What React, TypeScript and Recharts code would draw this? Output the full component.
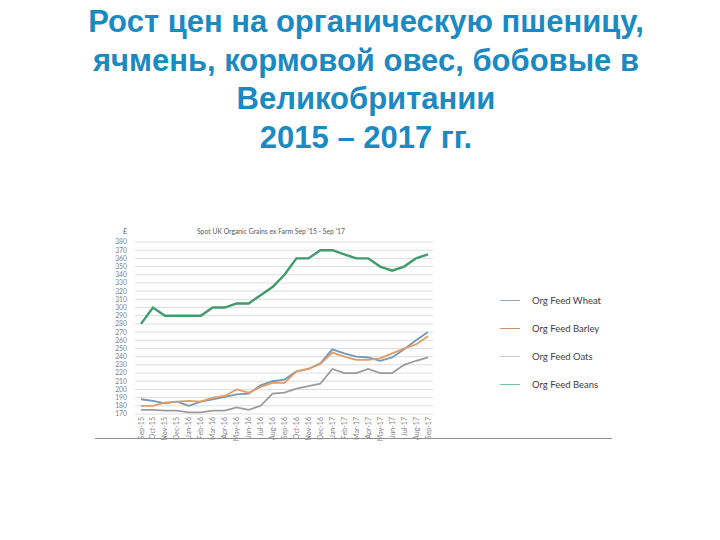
import { CartesianGrid, Legend, Line, LineChart, XAxis, YAxis } from 'recharts';

const months = [
  'Sep-15', 'Oct-15', 'Nov-15', 'Dec-15', 'Jan-16', 'Feb-16', 'Mar-16', 'Apr-16', 'May-16',
  'Jun-16', 'Jul-16', 'Aug-16', 'Sep-16', 'Oct-16', 'Nov-16', 'Dec-16', 'Jan-17', 'Feb-17',
  'Mar-17', 'Apr-17', 'May-17', 'Jun-17', 'Jul-17', 'Aug-17', 'Sep-17',
];
const wheat = [188, 186, 183, 185, 180, 185, 188, 191, 194, 195, 205, 210, 212, 222, 225, 232, 249, 244, 240, 239, 235, 239, 249, 260, 270];
const barley = [180, 180, 184, 185, 186, 185, 190, 192, 200, 196, 203, 208, 208, 222, 225, 231, 245, 240, 236, 236, 238, 244, 250, 255, 265];
const oats = [175, 175, 174, 174, 172, 172, 174, 174, 178, 175, 180, 195, 196, 201, 204, 207, 225, 220, 220, 225, 220, 220, 230, 235, 239];
const beans = [280, 300, 290, 290, 290, 290, 300, 300, 305, 305, 315, 325, 340, 360, 360, 370, 370, 365, 360, 360, 350, 345, 350, 360, 365];
const yTicks = [170, 180, 190, 200, 210, 220, 230, 240, 250, 260, 270, 280, 290, 300, 310, 320, 330, 340, 350, 360, 370, 380];

const series = [
  { key: 'wheat', name: 'Org Feed Wheat', color: '#7099b9', legend: '#8fabc2', width: 1.8 },
  { key: 'barley', name: 'Org Feed Barley', color: '#e69b63', legend: '#c98f68', width: 1.8 },
  { key: 'oats', name: 'Org Feed Oats', color: '#9b9b9b', legend: '#c9c9c9', width: 1.8 },
  { key: 'beans', name: 'Org Feed Beans', color: '#3f9b6c', legend: '#72c3a2', width: 2.4 },
];

const data = months.map((m, i) => ({
  month: m,
  wheat: wheat[i],
  barley: barley[i],
  oats: oats[i],
  beans: beans[i],
}));

const smallFont = 'Lato, "Open Sans", sans-serif';

function MonthTick({ x, y, payload }: any) {
  return (
    <g transform={`translate(${x},${y})`}>
      <text transform="rotate(-90)" textAnchor="end" dy={2.5} fontSize={7} fill="#7f7f7f" fontFamily={smallFont}>
        {payload.value}
      </text>
    </g>
  );
}

function LegendBox() {
  return (
    <div style={{ fontFamily: smallFont }}>
      {series.map((s) => (
        <div key={s.key} style={{ display: 'flex', alignItems: 'center', height: 28 }}>
          <span style={{ width: 20, height: 0, borderTop: `1.5px solid ${s.legend}`, marginRight: 12 }} />
          <span style={{ fontSize: 9.5, color: '#404040' }}>{s.name}</span>
        </div>
      ))}
    </div>
  );
}

export default function App() {
  return (
    <div style={{ position: 'absolute', left: 0, top: 0, width: 720, height: 540, background: '#fff', overflow: 'hidden' }}>
      <div
        style={{
          position: 'absolute',
          left: 0,
          top: 3,
          width: 732,
          textAlign: 'center',
          fontFamily: '"Liberation Sans", Arial, sans-serif',
          fontWeight: 'bold',
          fontSize: 31,
          lineHeight: '38.5px',
          color: '#1b89c2',
        }}
      >
        Рост цен на органическую пшеницу,
        <br />
        ячмень, кормовой овес, бобовые в
        <br />
        Великобритании
        <br />
        2015 – 2017 гг.
      </div>

      <div style={{ position: 'absolute', left: 123, top: 227, fontSize: 7, color: '#595959', fontFamily: smallFont }}>£</div>
      <div style={{ position: 'absolute', left: 197, top: 227, fontSize: 6.8, color: '#595959', fontFamily: smallFont }}>
        Spot UK Organic Grains ex Farm Sep '15 - Sep '17
      </div>

      <div style={{ position: 'absolute', left: 0, top: 200 }}>
        <LineChart width={720} height={300} data={data} margin={{ top: 42, right: 287, bottom: 60, left: 110 }}>
          <CartesianGrid vertical={false} stroke="#dedede" strokeWidth={1} />
          <XAxis
            dataKey="month"
            interval={0}
            axisLine={false}
            tickLine={false}
            tickSize={3}
            tickMargin={0}
            height={26}
            padding={{ left: 6, right: 5 }}
            tick={<MonthTick />}
          />
          <YAxis
            type="number"
            domain={[170, 380]}
            ticks={yTicks}
            interval={0}
            axisLine={false}
            tickLine={false}
            tickMargin={2}
            width={25}
            tick={{ fontSize: 6.8, fill: '#7f7f7f', fontFamily: smallFont }}
          />
          <Legend
            layout="horizontal"
            verticalAlign="middle"
            align="center"
            content={<LegendBox />}
            wrapperStyle={{ position: 'absolute', left: 500, top: 86, width: 120, height: 112 }}
          />
          {series.map((s) => (
            <Line
              key={s.key}
              type="linear"
              dataKey={s.key}
              name={s.name}
              stroke={s.color}
              strokeWidth={s.width}
              dot={false}
              activeDot={false}
              isAnimationActive={false}
            />
          ))}
        </LineChart>
      </div>

      <div style={{ position: 'absolute', left: 95, top: 438, width: 517, height: 0, borderTop: '1.5px solid #8c8c8c' }} />
    </div>
  );
}
